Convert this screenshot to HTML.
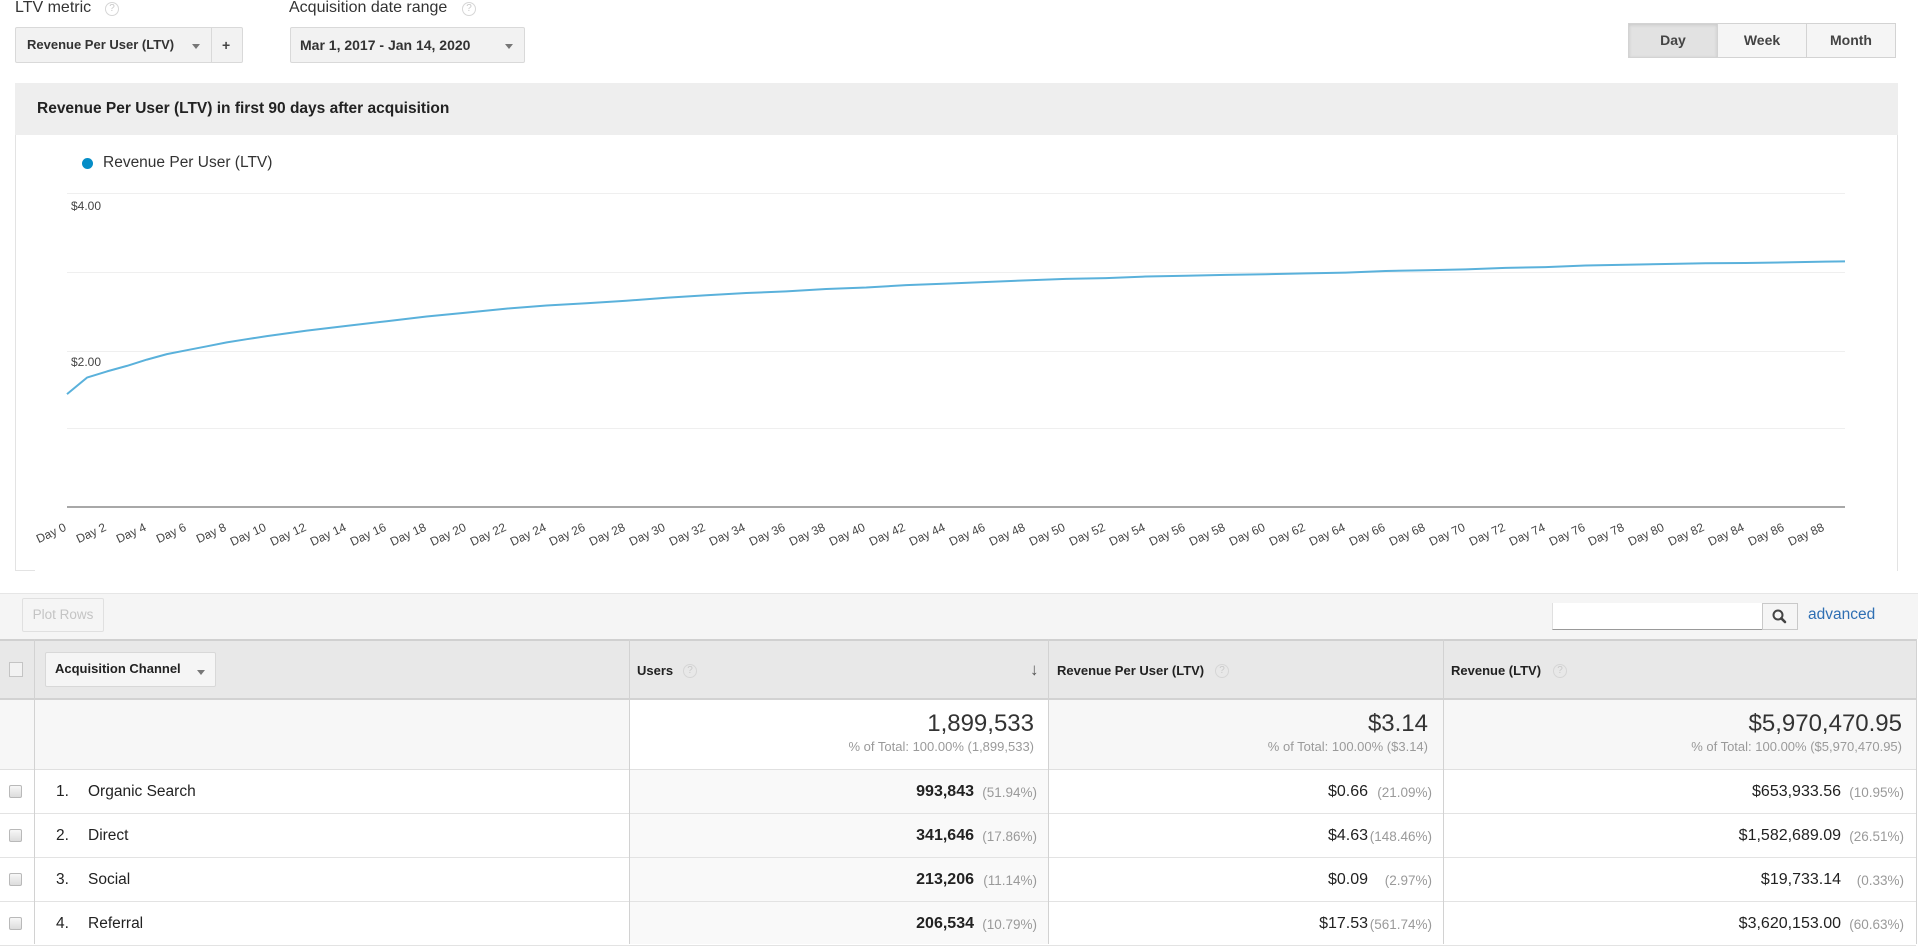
<!DOCTYPE html>
<html><head><meta charset="utf-8">
<style>
*{margin:0;padding:0;box-sizing:border-box}
html,body{width:1920px;height:944px;overflow:hidden;background:#fff;font-family:"Liberation Sans",Arial,sans-serif;color:#333}
.a{position:absolute}
.q{position:absolute;width:14px;height:14px;border:1px solid #d6d6d6;border-radius:50%;font-size:10px;line-height:12px;text-align:center;color:#c9c9c9;font-weight:normal}
.tri{position:absolute;width:0;height:0;border-left:4px solid transparent;border-right:4px solid transparent;border-top:5px solid #777}
.box{position:absolute;background:#f2f2f2;border:1px solid #d9d9d9;border-radius:2px}
.btn{position:absolute;top:0;height:35px;line-height:33px;text-align:center;font-weight:bold;font-size:14px;color:#444;border:1px solid #d3d3d3}
.hdr{position:absolute;font-weight:bold;font-size:13px;color:#222;line-height:16px}
.cb{position:absolute;left:9px;width:13px;height:13px;border:1px solid #b9b9b9;border-radius:2px;background:linear-gradient(#f7f7f7,#dcdcdc)}
.row{position:absolute;left:0;width:1916px;border-bottom:1px solid #e3e3e3}
.num{position:absolute;text-align:right;white-space:nowrap}
.v{font-size:16px;color:#222}
.p{font-size:13.5px;color:#9a9a9a}
.big{font-size:24px;color:#333}
.sub{font-size:13px;color:#9a9a9a}
.vl{position:absolute;top:639px;width:1px;height:305px;background:#d2d2d2}
</style></head><body>

<!-- top controls -->
<div class="a" style="left:15px;top:0;font-size:16px;line-height:16px;color:#333">LTV metric</div>
<div class="q" style="left:105px;top:2px">?</div>
<div class="a" style="left:289px;top:0;font-size:16px;line-height:16px;color:#333">Acquisition date range</div>
<div class="q" style="left:462px;top:2px">?</div>

<div class="box" style="left:15px;top:27px;width:228px;height:36px"></div>
<div class="a" style="left:211px;top:28px;width:1px;height:34px;background:#d9d9d9"></div>
<div class="a" style="left:27px;top:27px;line-height:36px;font-size:13px;font-weight:bold;color:#333">Revenue Per User (LTV)</div>
<div class="tri" style="left:192px;top:44px"></div>
<div class="a" style="left:222px;top:27px;line-height:36px;font-size:14px;font-weight:bold;color:#444">+</div>

<div class="box" style="left:290px;top:27px;width:235px;height:36px"></div>
<div class="a" style="left:300px;top:27px;line-height:36px;font-size:14px;font-weight:bold;color:#333">Mar 1, 2017 - Jan 14, 2020</div>
<div class="tri" style="left:505px;top:44px"></div>

<div class="a" style="left:1628px;top:23px;width:268px;height:35px">
  <div class="btn" style="left:0;width:90px;background:#e2e2e2;box-shadow:inset 0 1px 3px rgba(0,0,0,.12)">Day</div>
  <div class="btn" style="left:89px;width:90px;background:#f5f5f5">Week</div>
  <div class="btn" style="left:178px;width:90px;background:#f5f5f5">Month</div>
</div>

<!-- chart panel -->
<div class="a" style="left:15px;top:83px;width:1883px;height:488px;border-left:1px solid #e3e3e3;border-right:1px solid #e3e3e3"></div>
<div class="a" style="left:15px;top:83px;width:1883px;height:52px;background:#eeeeee"></div>
<div class="a" style="left:37px;top:83px;line-height:52px;font-size:15.5px;font-weight:bold;color:#222">Revenue Per User (LTV) in first 90 days after acquisition</div>
<div class="a" style="left:15px;top:570px;width:20px;height:1px;background:#e3e3e3"></div>

<div class="a" style="left:82px;top:158px;width:11px;height:11px;border-radius:50%;background:#058dc7"></div>
<div class="a" style="left:103px;top:155px;line-height:16px;font-size:15.5px;color:#333">Revenue Per User (LTV)</div>

<svg class="a" style="left:0;top:0" width="1920" height="580" viewBox="0 0 1920 580" xmlns="http://www.w3.org/2000/svg">
  <g stroke="#efefef" stroke-width="1">
    <line x1="67" y1="193.5" x2="1845" y2="193.5"/>
    <line x1="67" y1="272.5" x2="1845" y2="272.5"/>
    <line x1="67" y1="351.5" x2="1845" y2="351.5"/>
    <line x1="67" y1="428.5" x2="1845" y2="428.5"/>
  </g>
  <line x1="67" y1="507" x2="1845" y2="507" stroke="#a8a8a8" stroke-width="2"/>
  <g font-family="Liberation Sans, Arial, sans-serif" font-size="12" fill="#444">
    <text x="71" y="210">$4.00</text>
    <text x="71" y="366">$2.00</text>
  </g>
  <path fill="none" stroke="#5ab1db" stroke-width="2" stroke-linejoin="round" d="M67,394.1 L87,377.6 L107,371.4 L126.9,365.9 L146.9,359.6 L166.9,354.1 L186.9,350.2 L206.9,346.3 L226.8,342.4 L246.8,339.2 L266.8,336.1 L306.8,330.6 L346.7,325.9 L386.7,321.2 L426.6,316.5 L466.6,312.6 L506.6,308.6 L546.5,305.5 L586.5,303.2 L626.4,300.8 L666.4,297.7 L706.4,295.3 L746.3,293 L786.3,291.4 L826.2,289 L866.2,287.5 L906.2,285.1 L946.1,283.6 L986.1,282 L1026,280.4 L1066,278.9 L1106,278.1 L1145.9,276.5 L1185.9,275.7 L1225.8,274.9 L1265.8,274.2 L1305.8,273.4 L1345.7,272.6 L1385.7,271 L1425.6,270.2 L1465.6,269.4 L1505.6,267.9 L1545.5,267.1 L1585.5,265.5 L1625.4,264.7 L1665.4,264 L1705.4,263.2 L1745.3,263 L1785.3,262.4 L1825.2,261.6 L1845,261.4"/>
  <g font-family="Liberation Sans, Arial, sans-serif" font-size="12" fill="#444" text-anchor="end">
    <text transform="translate(67,530) rotate(-25)">Day 0</text>
    <text transform="translate(107,530) rotate(-25)">Day 2</text>
    <text transform="translate(147,530) rotate(-25)">Day 4</text>
    <text transform="translate(187,530) rotate(-25)">Day 6</text>
    <text transform="translate(227,530) rotate(-25)">Day 8</text>
    <text transform="translate(267,530) rotate(-25)">Day 10</text>
    <text transform="translate(307,530) rotate(-25)">Day 12</text>
    <text transform="translate(347,530) rotate(-25)">Day 14</text>
    <text transform="translate(387,530) rotate(-25)">Day 16</text>
    <text transform="translate(427,530) rotate(-25)">Day 18</text>
    <text transform="translate(467,530) rotate(-25)">Day 20</text>
    <text transform="translate(507,530) rotate(-25)">Day 22</text>
    <text transform="translate(547,530) rotate(-25)">Day 24</text>
    <text transform="translate(586,530) rotate(-25)">Day 26</text>
    <text transform="translate(626,530) rotate(-25)">Day 28</text>
    <text transform="translate(666,530) rotate(-25)">Day 30</text>
    <text transform="translate(706,530) rotate(-25)">Day 32</text>
    <text transform="translate(746,530) rotate(-25)">Day 34</text>
    <text transform="translate(786,530) rotate(-25)">Day 36</text>
    <text transform="translate(826,530) rotate(-25)">Day 38</text>
    <text transform="translate(866,530) rotate(-25)">Day 40</text>
    <text transform="translate(906,530) rotate(-25)">Day 42</text>
    <text transform="translate(946,530) rotate(-25)">Day 44</text>
    <text transform="translate(986,530) rotate(-25)">Day 46</text>
    <text transform="translate(1026,530) rotate(-25)">Day 48</text>
    <text transform="translate(1066,530) rotate(-25)">Day 50</text>
    <text transform="translate(1106,530) rotate(-25)">Day 52</text>
    <text transform="translate(1146,530) rotate(-25)">Day 54</text>
    <text transform="translate(1186,530) rotate(-25)">Day 56</text>
    <text transform="translate(1226,530) rotate(-25)">Day 58</text>
    <text transform="translate(1266,530) rotate(-25)">Day 60</text>
    <text transform="translate(1306,530) rotate(-25)">Day 62</text>
    <text transform="translate(1346,530) rotate(-25)">Day 64</text>
    <text transform="translate(1386,530) rotate(-25)">Day 66</text>
    <text transform="translate(1426,530) rotate(-25)">Day 68</text>
    <text transform="translate(1466,530) rotate(-25)">Day 70</text>
    <text transform="translate(1506,530) rotate(-25)">Day 72</text>
    <text transform="translate(1546,530) rotate(-25)">Day 74</text>
    <text transform="translate(1586,530) rotate(-25)">Day 76</text>
    <text transform="translate(1625,530) rotate(-25)">Day 78</text>
    <text transform="translate(1665,530) rotate(-25)">Day 80</text>
    <text transform="translate(1705,530) rotate(-25)">Day 82</text>
    <text transform="translate(1745,530) rotate(-25)">Day 84</text>
    <text transform="translate(1785,530) rotate(-25)">Day 86</text>
    <text transform="translate(1825,530) rotate(-25)">Day 88</text>
  </g>
</svg>

<!-- toolbar -->
<div class="a" style="left:0;top:593px;width:1918px;height:46px;background:#f5f5f5;border-top:1px solid #e6e6e6"></div>
<div class="a" style="left:22px;top:598px;width:82px;height:34px;border:1px solid #e0e0e0;border-radius:2px;line-height:32px;text-align:center;font-size:13.5px;color:#c4c4c4">Plot Rows</div>
<div class="a" style="left:1552px;top:603px;width:210px;height:27px;background:#fff;border-bottom:1px solid #999;border-left:1px solid #e0e0e0"></div>
<div class="a" style="left:1762px;top:603px;width:36px;height:27px;background:#f5f5f5;border:1px solid #c9c9c9">
  <svg width="34" height="25" viewBox="0 0 34 25" xmlns="http://www.w3.org/2000/svg"><circle cx="15" cy="11" r="4.5" fill="none" stroke="#444" stroke-width="2"/><line x1="18.3" y1="14.3" x2="22" y2="18" stroke="#444" stroke-width="2.6" stroke-linecap="round"/></svg>
</div>
<div class="a" style="left:1808px;top:606px;line-height:18px;font-size:15.5px;color:#2e6fb3">advanced</div>

<!-- table header -->
<div class="a" style="left:0;top:639px;width:1916px;height:61px;background:#e8e8e8;border-top:2px solid #d0d0d0;border-bottom:2px solid #d2d2d2"></div>
<!-- totals row bg -->
<div class="a" style="left:0;top:700px;width:629px;height:70px;background:#f7f7f7"></div>
<div class="a" style="left:1048px;top:700px;width:868px;height:70px;background:#f7f7f7"></div>
<div class="a" style="left:0;top:769px;width:1916px;height:1px;background:#e0e0e0"></div>
<!-- sorted column bg -->
<div class="a" style="left:629px;top:770px;width:419px;height:174px;background:#f9f9f9"></div>
<!-- row lines -->
<div class="row" style="top:770px;height:44px"></div>
<div class="row" style="top:814px;height:44px"></div>
<div class="row" style="top:858px;height:44px"></div>
<div class="row" style="top:902px;height:44px"></div>
<!-- vertical lines -->
<div class="vl" style="left:34px"></div>
<div class="vl" style="left:629px"></div>
<div class="vl" style="left:1048px"></div>
<div class="vl" style="left:1443px"></div>
<div class="vl" style="left:1916px"></div>

<div class="a" style="left:9px;top:662px;width:14px;height:15px;border:1px solid #c4c4c4;background:#f2f2f2"></div>
<div class="a" style="left:45px;top:652px;width:171px;height:35px;background:#f5f5f5;border:1px solid #d8d8d8;border-radius:2px"></div>
<div class="hdr" style="left:55px;top:661px">Acquisition Channel</div>
<div class="tri" style="left:197px;top:670px"></div>

<div class="hdr" style="left:637px;top:663px">Users</div>
<div class="q" style="left:683px;top:664px">?</div>
<div class="a" style="left:1030px;top:660px;font-size:17px;color:#555;line-height:20px">&#8595;</div>
<div class="hdr" style="left:1057px;top:663px">Revenue Per User (LTV)</div>
<div class="q" style="left:1215px;top:664px">?</div>
<div class="hdr" style="left:1451px;top:663px">Revenue (LTV)</div>
<div class="q" style="left:1553px;top:664px">?</div>

<!-- totals -->
<div class="num big" style="right:886px;top:710px;line-height:28px">1,899,533</div>
<div class="num sub" style="right:886px;top:739px;line-height:16px">% of Total: 100.00% (1,899,533)</div>
<div class="num big" style="right:492px;top:710px;line-height:28px">$3.14</div>
<div class="num sub" style="right:492px;top:739px;line-height:16px">% of Total: 100.00% ($3.14)</div>
<div class="num big" style="right:18px;top:710px;line-height:28px">$5,970,470.95</div>
<div class="num sub" style="right:18px;top:739px;line-height:16px">% of Total: 100.00% ($5,970,470.95)</div>

<!-- rows -->
<div class="cb" style="top:785px"></div>
<div class="cb" style="top:829px"></div>
<div class="cb" style="top:873px"></div>
<div class="cb" style="top:917px"></div>

<div class="a" style="left:56px;top:783px;font-size:15.5px;line-height:18px;color:#222">1.</div>
<div class="a" style="left:88px;top:783px;font-size:15.5px;line-height:18px;color:#222">Organic Search</div>
<div class="a" style="left:56px;top:827px;font-size:15.5px;line-height:18px;color:#222">2.</div>
<div class="a" style="left:88px;top:827px;font-size:15.5px;line-height:18px;color:#222">Direct</div>
<div class="a" style="left:56px;top:871px;font-size:15.5px;line-height:18px;color:#222">3.</div>
<div class="a" style="left:88px;top:871px;font-size:15.5px;line-height:18px;color:#222">Social</div>
<div class="a" style="left:56px;top:915px;font-size:15.5px;line-height:18px;color:#222">4.</div>
<div class="a" style="left:88px;top:915px;font-size:15.5px;line-height:18px;color:#222">Referral</div>

<!-- users values -->
<div class="num v" style="right:946px;top:783px;line-height:18px;font-weight:bold">993,843</div>
<div class="num p" style="right:883px;top:784px;line-height:18px">(51.94%)</div>
<div class="num v" style="right:946px;top:827px;line-height:18px;font-weight:bold">341,646</div>
<div class="num p" style="right:883px;top:828px;line-height:18px">(17.86%)</div>
<div class="num v" style="right:946px;top:871px;line-height:18px;font-weight:bold">213,206</div>
<div class="num p" style="right:883px;top:872px;line-height:18px">(11.14%)</div>
<div class="num v" style="right:946px;top:915px;line-height:18px;font-weight:bold">206,534</div>
<div class="num p" style="right:883px;top:916px;line-height:18px">(10.79%)</div>

<!-- RPU values -->
<div class="num v" style="right:552px;top:783px;line-height:18px">$0.66</div>
<div class="num p" style="right:488px;top:784px;line-height:18px">(21.09%)</div>
<div class="num v" style="right:552px;top:827px;line-height:18px">$4.63</div>
<div class="num p" style="right:488px;top:828px;line-height:18px">(148.46%)</div>
<div class="num v" style="right:552px;top:871px;line-height:18px">$0.09</div>
<div class="num p" style="right:488px;top:872px;line-height:18px">(2.97%)</div>
<div class="num v" style="right:552px;top:915px;line-height:18px">$17.53</div>
<div class="num p" style="right:488px;top:916px;line-height:18px">(561.74%)</div>

<!-- Revenue values -->
<div class="num v" style="right:79px;top:783px;line-height:18px">$653,933.56</div>
<div class="num p" style="right:16px;top:784px;line-height:18px">(10.95%)</div>
<div class="num v" style="right:79px;top:827px;line-height:18px">$1,582,689.09</div>
<div class="num p" style="right:16px;top:828px;line-height:18px">(26.51%)</div>
<div class="num v" style="right:79px;top:871px;line-height:18px">$19,733.14</div>
<div class="num p" style="right:16px;top:872px;line-height:18px">(0.33%)</div>
<div class="num v" style="right:79px;top:915px;line-height:18px">$3,620,153.00</div>
<div class="num p" style="right:16px;top:916px;line-height:18px">(60.63%)</div>

</body></html>
